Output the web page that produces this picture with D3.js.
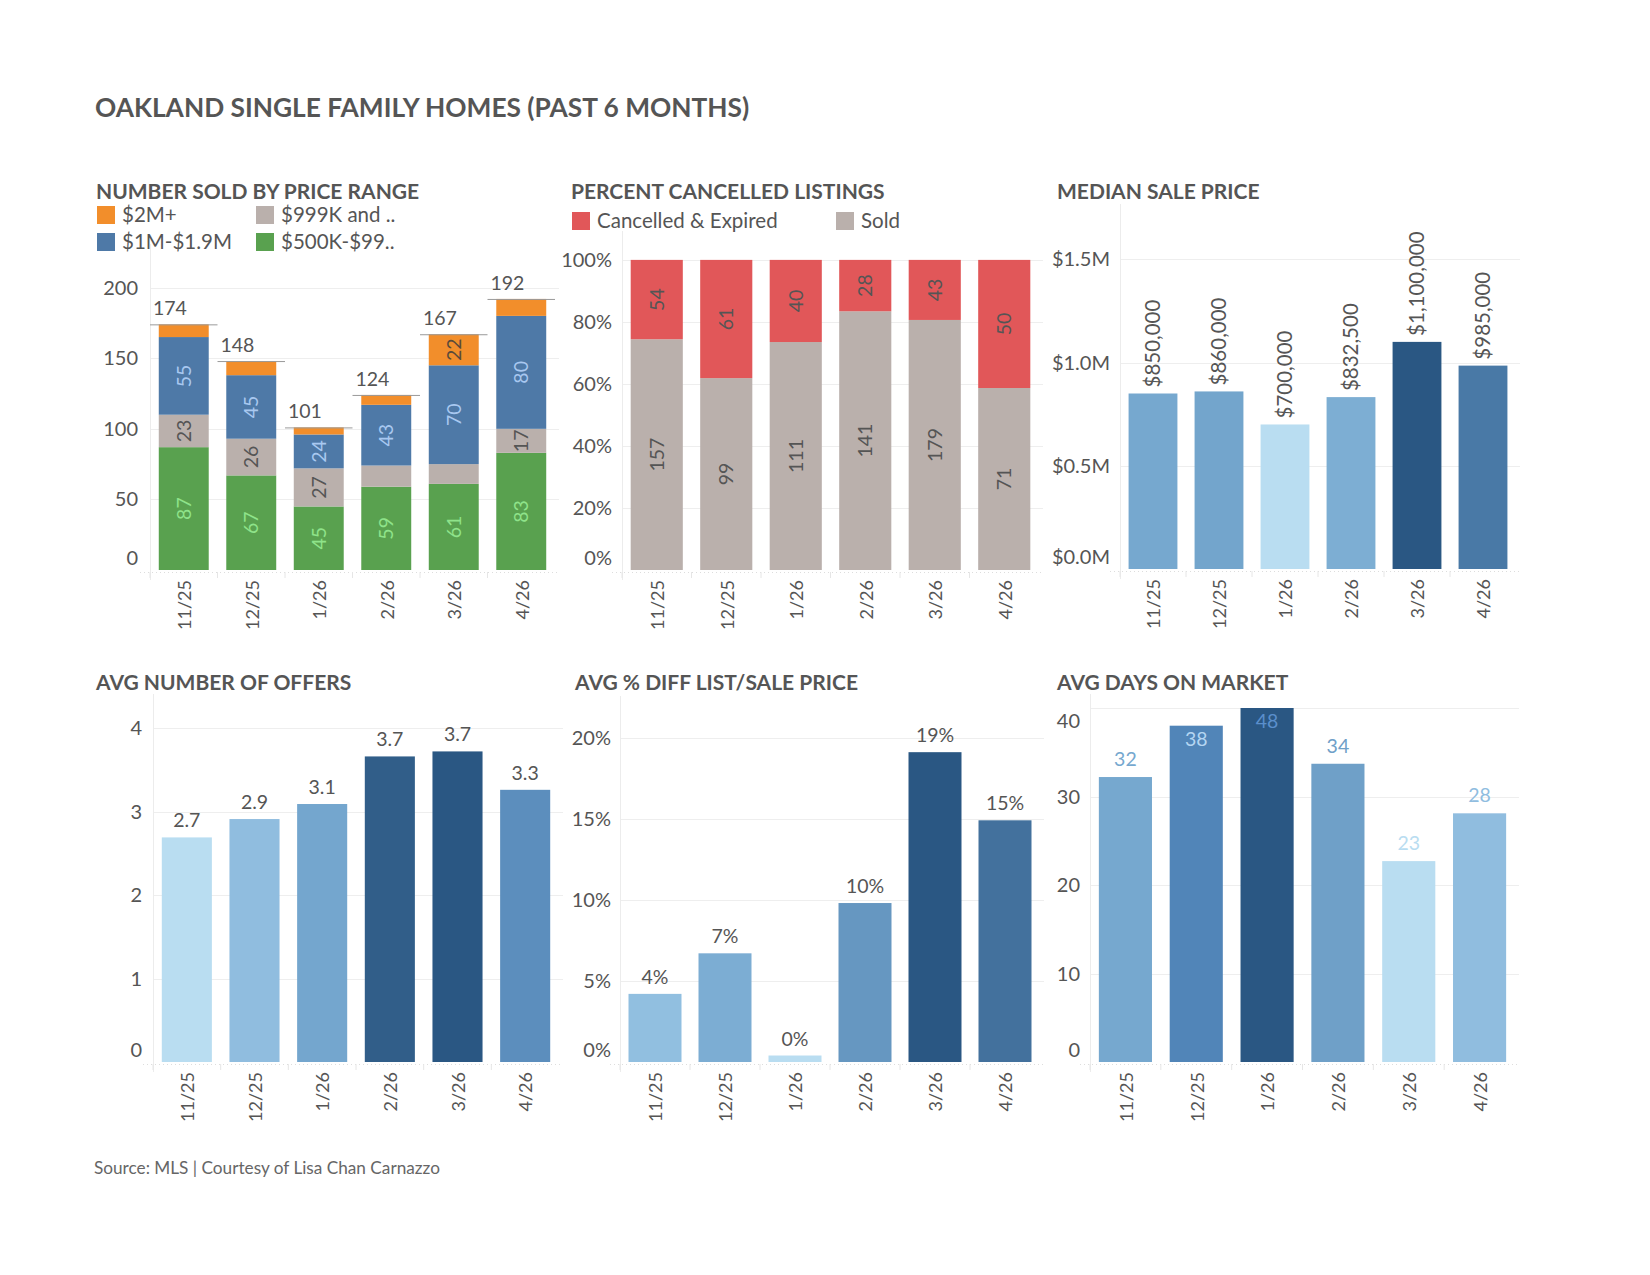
<!DOCTYPE html>
<html>
<head>
<meta charset="utf-8">
<script src="https://cdn.jsdelivr.net/npm/d3@7"></script>
<style>
  body { margin: 0; background: #fff; }
  svg { display: block; font-family: Lato, "Open Sans", sans-serif; }
</style>
</head>
<body>
<svg id="c" width="1650" height="1275"></svg>
<script>
// ---------------- DATA ----------------
const months = ["11/25", "12/25", "1/26", "2/26", "3/26", "4/26"];

// Number sold by price range (stacked, bottom to top)
const priceRanges = ["$500K-$99..", "$999K and ..", "$1M-$1.9M", "$2M+"];
const sold500kTo999k = [87, 67, 45, 59, 61, 83];
const sold999kUnder = [23, 26, 27, 15, 14, 17];
const sold1mTo19m = [55, 45, 24, 43, 70, 80];
const sold2mPlus = [9, 10, 5, 7, 22, 12];
const soldTicks = [0, 50, 100, 150, 200];

// Percent cancelled listings
const listingStatus = ["Sold", "Cancelled & Expired"];
const cancelledExpired = [54, 61, 40, 28, 43, 50];
const soldListings = [157, 99, 111, 141, 179, 71];
const pctTicks = [0, 0.2, 0.4, 0.6, 0.8, 1.0];

// Median sale price
const medianPrice = [850000, 860000, 700000, 832500, 1100000, 985000];
const priceTicks = [0, 500000, 1000000, 1500000];

// Avg number of offers
const avgOffers = [2.69, 2.91, 3.09, 3.66, 3.72, 3.26];
const offerTicks = [0, 1, 2, 3, 4];

// Avg % diff list/sale price
const pctDiff = [0.042, 0.067, 0.004, 0.098, 0.191, 0.149];
const diffTicks = [0, 0.05, 0.10, 0.15, 0.20];

// Avg days on market
const daysOnMarket = [32.2, 38.0, 47.9, 33.7, 22.7, 28.1];
const dayTicks = [0, 10, 20, 30, 40];

// ---------------- STYLE ----------------
const TXT = "#555555";
const GRID = "#eeeeee";
const FS_TICK = 20, FS_VAL = 19.5, FS_LEG = 20.5, FS_MONTH = 18, FS_SUB = 21;
const stackColors = { "$2M+": "#f28e2b", "$1M-$1.9M": "#4e79a7", "$999K and ..": "#bab0ac", "$500K-$99..": "#59a14f" };
const stackLabelColors = { "$2M+": "#5a4a3a", "$1M-$1.9M": "#a8c8f0", "$999K and ..": "#555555", "$500K-$99..": "#8fe38a" };
const statusColors = { "Cancelled & Expired": "#e15759", "Sold": "#bab0ac" };
// Tableau-like sequential blue
const blueRamp = d3.scaleLinear()
  .domain([0, 0.2, 0.375, 0.5, 0.6, 0.75, 0.93, 1])
  .range(["#b9ddf1", "#92bfe0", "#76a8cf", "#6797c1", "#5286b9", "#4674a0", "#325f8a", "#2a5783"])
  .interpolate(d3.interpolateRgb);

const svg = d3.select("#c");

// Title & footer
svg.append("text").attr("x", 95).attr("y", 117)
  .attr("font-size", 26.3).attr("font-weight", 700).attr("fill", TXT)
  .text("OAKLAND SINGLE FAMILY HOMES (PAST 6 MONTHS)");
svg.append("text").attr("x", 94).attr("y", 1174)
  .attr("font-size", 17.2).attr("fill", "#666")
  .text("Source: MLS | Courtesy of Lisa Chan Carnazzo");

function subtitle(x, y, t) {
  svg.append("text").attr("x", x).attr("y", y)
    .attr("font-size", FS_SUB).attr("font-weight", 700).attr("fill", TXT).text(t);
}

// Generic frame: gridlines, axis, tick labels, rotated month labels
function frame(cfg) {
  const g = svg.append("g");
  const x = d3.scaleBand().domain(months).range([cfg.left, cfg.right])
    .paddingInner(cfg.pad).paddingOuter(cfg.pad / 2);
  const y = d3.scaleLinear().domain([0, cfg.max]).range([cfg.bottom, cfg.top]);
  // gridlines
  g.selectAll("line.grid").data(cfg.ticks.filter(t => t > 0)).join("line")
    .attr("x1", cfg.left).attr("x2", cfg.right + 4)
    .attr("y1", d => Math.round(y(d)) + 0.5).attr("y2", d => Math.round(y(d)) + 0.5)
    .attr("stroke", GRID).attr("stroke-width", 1);
  // vertical axis line
  g.append("line").attr("x1", cfg.left + 0.5).attr("x2", cfg.left + 0.5)
    .attr("y1", cfg.top - 14).attr("y2", cfg.bottom + 10)
    .attr("stroke", "#ececec");
  // dotted baseline and tiny ticks
  g.append("line").attr("x1", cfg.left - 10).attr("x2", cfg.right + 4)
    .attr("y1", cfg.bottom + 2.5).attr("y2", cfg.bottom + 2.5)
    .attr("stroke", "#dddddd").attr("stroke-dasharray", "1,3");
  const step = x.step();
  g.selectAll("line.btick").data(months).join("line")
    .attr("x1", d => x(d) - step * cfg.pad / 2).attr("x2", d => x(d) - step * cfg.pad / 2)
    .attr("y1", cfg.bottom + 2).attr("y2", cfg.bottom + 8)
    .attr("stroke", "#e6e6e6");
  // tick labels
  g.selectAll("text.tick").data(cfg.ticks).join("text")
    .attr("x", cfg.labelX)
    .attr("y", d => {
      if (d === 0) return cfg.bottom - 12;
      const yy = y(d);
      return yy < cfg.top + 8 ? cfg.top + 13 : yy;
    })
    .attr("dy", "0.35em").attr("text-anchor", "end")
    .attr("font-size", FS_TICK).attr("fill", TXT)
    .text(cfg.fmt);
  // month labels
  g.selectAll("text.month").data(months).join("text")
    .attr("transform", d => `translate(${x(d) + x.bandwidth() / 2 + 1},${cfg.bottom + 10}) rotate(-90)`)
    .attr("text-anchor", "end").attr("dy", "0.35em")
    .attr("font-size", FS_MONTH).attr("fill", TXT)
    .text(d => d);
  return { g, x, y };
}

function legendItem(x, y, color, label) {
  svg.append("rect").attr("x", x).attr("y", y).attr("width", 18).attr("height", 18).attr("fill", color);
  svg.append("text").attr("x", x + 25).attr("y", y + 9).attr("dy", "0.35em")
    .attr("font-size", FS_LEG).attr("fill", TXT).text(label);
}

// ============ Chart 1: Number sold by price range ============
subtitle(96, 199, "NUMBER SOLD BY PRICE RANGE");
legendItem(97, 206, stackColors["$2M+"], "$2M+");
legendItem(97, 233, stackColors["$1M-$1.9M"], "$1M-$1.9M");
legendItem(256, 206, stackColors["$999K and .."], "$999K and ..");
legendItem(256, 233, stackColors["$500K-$99.."], "$500K-$99..");
{
  const f = frame({ left: 150, right: 555, top: 258, bottom: 570, max: 221, pad: 0.26,
    ticks: soldTicks, labelX: 138, fmt: d => d3.format("d")(d) });
  const rows = months.map((m, i) => ({
    month: m,
    "$500K-$99..": sold500kTo999k[i], "$999K and ..": sold999kUnder[i],
    "$1M-$1.9M": sold1mTo19m[i], "$2M+": sold2mPlus[i]
  }));
  const series = d3.stack().keys(priceRanges)(rows);
  const { x, y, g } = f;
  series.forEach(s => {
    g.selectAll(null).data(s).join("rect")
      .attr("x", d => x(d.data.month)).attr("width", x.bandwidth())
      .attr("y", d => y(d[1])).attr("height", d => y(d[0]) - y(d[1]))
      .attr("fill", stackColors[s.key]);
    g.selectAll(null).data(s.filter(d => d[1] - d[0] >= 16)).join("text")
      .attr("transform", d => `translate(${x(d.data.month) + x.bandwidth() / 2},${(y(d[0]) + y(d[1])) / 2}) rotate(-90)`)
      .attr("text-anchor", "middle").attr("dy", "0.35em")
      .attr("font-size", FS_VAL).attr("fill", stackLabelColors[s.key])
      .text(d => d[1] - d[0]);
  });
  // totals with reference line
  const step = x.step();
  const totals = rows.map(r => ({ month: r.month, total: priceRanges.reduce((a, k) => a + r[k], 0) }));
  g.selectAll(null).data(totals).join("line")
    .attr("x1", d => x(d.month) - step * 0.13).attr("x2", d => x(d.month) - step * 0.13 + step)
    .attr("y1", d => y(d.total) + 0.5).attr("y2", d => y(d.total) + 0.5)
    .attr("stroke", "#9a9a9a").attr("stroke-width", 1);
  g.selectAll(null).data(totals).join("text")
    .attr("x", d => x(d.month) - step * 0.13 + 3).attr("y", d => y(d.total) - 9)
    .attr("font-size", FS_VAL).attr("fill", TXT).text(d => d.total);
}

// ============ Chart 2: Percent cancelled listings ============
subtitle(571, 199, "PERCENT CANCELLED LISTINGS");
legendItem(572, 212, statusColors["Cancelled & Expired"], "Cancelled & Expired");
legendItem(836, 212, statusColors["Sold"], "Sold");
{
  const f = frame({ left: 622, right: 1039, top: 245, bottom: 570, max: 1.048, pad: 0.25,
    ticks: pctTicks, labelX: 612, fmt: d => d3.format(".0%")(d) });
  const { x, y, g } = f;
  const rows = months.map((m, i) => {
    const tot = soldListings[i] + cancelledExpired[i];
    return { month: m, "Sold": soldListings[i] / tot, "Cancelled & Expired": cancelledExpired[i] / tot,
      counts: { "Sold": soldListings[i], "Cancelled & Expired": cancelledExpired[i] } };
  });
  const series = d3.stack().keys(listingStatus)(rows);
  series.forEach(s => {
    g.selectAll(null).data(s).join("rect")
      .attr("x", d => x(d.data.month)).attr("width", x.bandwidth())
      .attr("y", d => y(d[1])).attr("height", d => y(d[0]) - y(d[1]))
      .attr("fill", statusColors[s.key]);
    g.selectAll(null).data(s).join("text")
      .attr("transform", d => `translate(${x(d.data.month) + x.bandwidth() / 2},${(y(d[0]) + y(d[1])) / 2}) rotate(-90)`)
      .attr("text-anchor", "middle").attr("dy", "0.35em")
      .attr("font-size", FS_VAL).attr("fill", TXT)
      .text(d => d.data.counts[s.key]);
  });
}

// ============ Simple colored bar charts ============
function colorFor(values) {
  const ext = d3.extent(values);
  return v => blueRamp((v - ext[0]) / (ext[1] - ext[0]));
}

// Chart 3: Median sale price
subtitle(1057, 199, "MEDIAN SALE PRICE");
{
  const f = frame({ left: 1120, right: 1516, top: 218, bottom: 569, max: 1700000, pad: 0.26,
    ticks: priceTicks, labelX: 1110, fmt: d => "$" + d3.format(".1f")(d / 1e6) + "M" });
  const { x, y, g } = f;
  const col = colorFor(medianPrice);
  const data = months.map((m, i) => ({ m, v: medianPrice[i] }));
  g.selectAll(null).data(data).join("rect")
    .attr("x", d => x(d.m)).attr("width", x.bandwidth())
    .attr("y", d => y(d.v)).attr("height", d => y(0) - y(d.v))
    .attr("fill", d => col(d.v));
  g.selectAll(null).data(data).join("text")
    .attr("transform", d => `translate(${x(d.m) + x.bandwidth() / 2},${y(d.v) - 6}) rotate(-90)`)
    .attr("text-anchor", "start").attr("dy", "0.35em")
    .attr("font-size", FS_VAL + 1).attr("fill", TXT)
    .text(d => "$" + d3.format(",")(d.v));
}

// Chart 4: Avg number of offers
subtitle(96, 690, "AVG NUMBER OF OFFERS");
{
  const f = frame({ left: 153, right: 559, top: 708, bottom: 1062, max: 4.24, pad: 0.26,
    ticks: offerTicks, labelX: 142, fmt: d => d3.format("d")(d) });
  const { x, y, g } = f;
  const col = colorFor(avgOffers);
  const data = months.map((m, i) => ({ m, v: avgOffers[i] }));
  g.selectAll(null).data(data).join("rect")
    .attr("x", d => x(d.m)).attr("width", x.bandwidth())
    .attr("y", d => y(d.v)).attr("height", d => y(0) - y(d.v))
    .attr("fill", d => col(d.v));
  g.selectAll(null).data(data).join("text")
    .attr("x", d => x(d.m) + x.bandwidth() / 2).attr("y", d => y(d.v) - 10)
    .attr("text-anchor", "middle").attr("font-size", FS_VAL).attr("fill", TXT)
    .text(d => d3.format(".1f")(d.v));
}

// Chart 5: Avg % diff list/sale price
subtitle(575, 690, "AVG % DIFF LIST/SALE PRICE");
{
  const f = frame({ left: 620, right: 1040, top: 710, bottom: 1062, max: 0.217, pad: 0.243,
    ticks: diffTicks, labelX: 611, fmt: d => d3.format(".0%")(d) });
  const { x, y, g } = f;
  const col = colorFor(pctDiff);
  const data = months.map((m, i) => ({ m, v: pctDiff[i] }));
  g.selectAll(null).data(data).join("rect")
    .attr("x", d => x(d.m)).attr("width", x.bandwidth())
    .attr("y", d => y(d.v)).attr("height", d => y(0) - y(d.v))
    .attr("fill", d => col(d.v));
  g.selectAll(null).data(data).join("text")
    .attr("x", d => x(d.m) + x.bandwidth() / 2).attr("y", d => y(d.v) - 10)
    .attr("text-anchor", "middle").attr("font-size", FS_VAL).attr("fill", TXT)
    .text(d => d3.format(".0%")(d.v));
}

// Chart 6: Avg days on market (axis clipped at 40)
subtitle(1057, 690, "AVG DAYS ON MARKET");
{
  const f = frame({ left: 1090, right: 1515, top: 708, bottom: 1062, max: 40, pad: 0.25,
    ticks: dayTicks, labelX: 1080, fmt: d => d3.format("d")(d) });
  const { x, y, g } = f;
  const ext = d3.extent(daysOnMarket);
  const tOf = v => (v - ext[0]) / (ext[1] - ext[0]);
  const data = months.map((m, i) => ({ m, v: daysOnMarket[i] }));
  const top = d => Math.max(y(d.v), y(40));
  g.selectAll(null).data(data).join("rect")
    .attr("x", d => x(d.m)).attr("width", x.bandwidth())
    .attr("y", top).attr("height", d => y(0) - top(d))
    .attr("fill", d => blueRamp(tOf(d.v)));
  g.selectAll(null).data(data).join("text")
    .attr("x", d => x(d.m) + x.bandwidth() / 2)
    .attr("y", d => (top(d) - 25 < y(40)) ? top(d) + 20 : top(d) - 11)
    .attr("text-anchor", "middle").attr("font-size", FS_VAL)
    .attr("fill", d => {
      if (top(d) - 25 >= y(40)) return blueRamp(tOf(d.v));
      return tOf(d.v) > 0.9 ? "#5b8fcc" : "#b5d6f2";
    })
    .text(d => d3.format("d")(Math.round(d.v)));
}
</script>
</body>
</html>
